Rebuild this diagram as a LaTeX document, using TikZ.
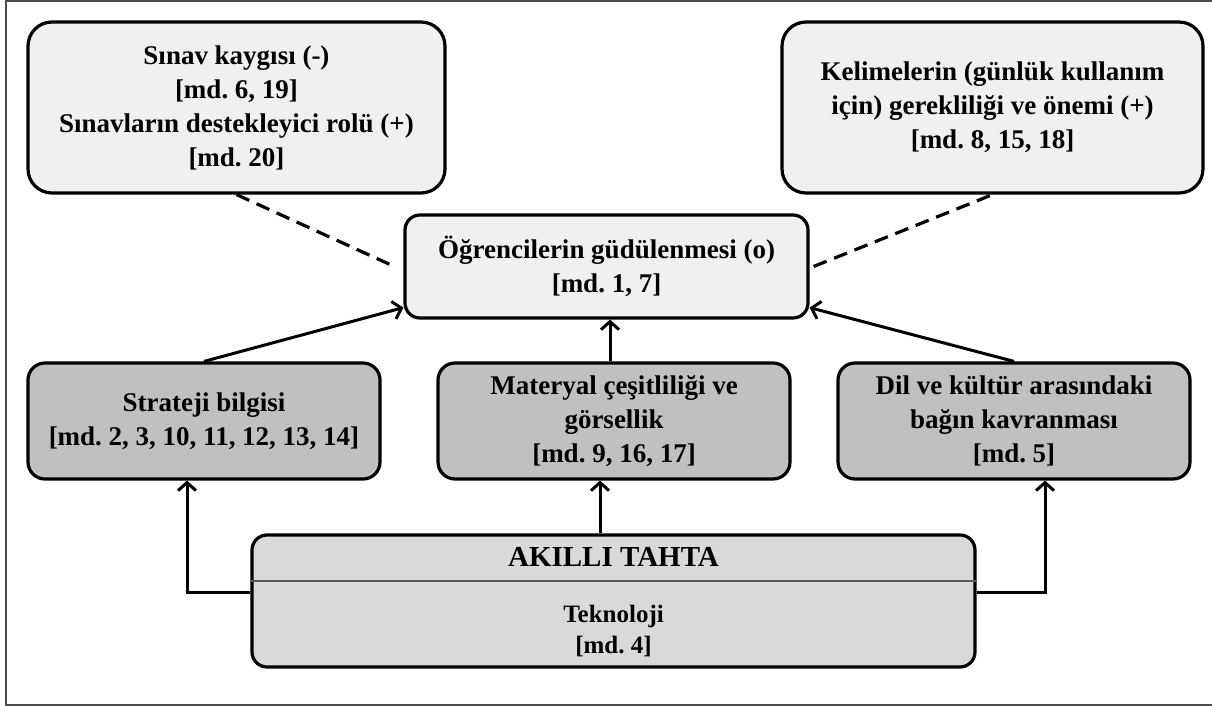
\documentclass[tikz,border=0pt]{standalone}
\usepackage{fontspec}
\setmainfont{Liberation Serif}
\usepackage{xcolor}
\usetikzlibrary{positioning, arrows.meta}
\frenchspacing
\definecolor{boxlight}{HTML}{F0F0F0}
\definecolor{boxdark}{HTML}{C0C0C0}
\definecolor{boxmid}{HTML}{D9D9D9}
\tikzset{box/.style={draw=black,line width=3.2pt,align=center,inner sep=0pt,font=\bfseries\fontsize{27}{34}\selectfont},
  topbox/.style={box,fill=boxlight,rounded corners=24pt,minimum height=171pt},
  midbox/.style={box,fill=boxdark,rounded corners=17pt,minimum width=352pt,minimum height=116pt},
  arr/.style={line width=3pt,-{Straight Barb[length=8pt,width=18pt]}},
  dash line/.style={line width=3.2pt,dash pattern=on 14pt off 8pt}}

\begin{document}
\begin{tikzpicture}[x=1pt,y=-1pt]
  \useasboundingbox (0,0) rectangle (1212,706);
  \draw[gray!60!black,line width=1.8pt] (6,1) rectangle (1230,705);

  \node[topbox,minimum width=417pt] (sinav) at (236.5,107.5) {Sınav kaygısı (-)\\{}[md. 6, 19]\\Sınavların destekleyici rolü (+)\\{}[md. 20]};
  \node[topbox,minimum width=421pt] (kelime) at (992.5,107.5) {Kelimelerin (günlük kullanım\\için) gerekliliği ve önemi (+)\\{}[md. 8, 15, 18]};
  \node[box,fill=boxlight,rounded corners=15pt,minimum width=403pt,minimum height=103pt] (gudu) at (606.5,266.5) {Öğrencilerin güdülenmesi (o)\\{}[md. 1, 7]};

  \node[midbox] (strateji) at (204,421) {Strateji bilgisi\\{}[md. 2, 3, 10, 11, 12, 13, 14]};
  \node[midbox] (materyal) at (614,421) {Materyal çeşitliliği ve\\görsellik\\{}[md. 9, 16, 17]};
  \node[midbox] (kultur) at (1014,421) {Dil ve kültür arasındaki\\bağın kavranması\\{}[md. 5]};

  \node[box,fill=boxmid,rounded corners=15pt,minimum width=723pt,minimum height=132pt] (tahta) at (613.5,601) {};
  \coordinate (split) at (0,581);
  \draw[gray!70!black,line width=1.6pt] (tahta.west |- split) -- (tahta.east |- split);
  \node[font=\bfseries\fontsize{29}{34}\selectfont,inner sep=0pt] (tahtabaslik) at (613.5,557) {AKILLI TAHTA};
  \node[font=\bfseries\fontsize{25}{31}\selectfont,align=center,inner sep=0pt] (teknoloji) at (613.5,631) {Teknoloji\\{}[md. 4]};

  \coordinate (solx) at (187,592);
  \coordinate (sagx) at (1045,592);
  \coordinate (ortax) at (600,0);
  \coordinate (ustx) at (610,0);
  \draw[arr] (tahta.west |- solx) -| (strateji.south -| solx);
  \draw[arr] (tahta.east |- sagx) -| (kultur.south -| sagx);
  \draw[arr] (tahta.north -| ortax) -- (materyal.south -| ortax);
  \draw[arr] (materyal.north -| ustx) -- (gudu.south -| ustx);
  \draw[arr] (strateji.north) -- ([yshift=12pt]gudu.south west);
  \draw[arr] (kultur.north) -- ([yshift=12pt]gudu.south east);

  \draw[dash line] (sinav.south) -- ([xshift=-9pt]gudu.west);
  \draw[dash line] ([xshift=4pt]gudu.east) -- (kelime.south);
\end{tikzpicture}
\end{document}
